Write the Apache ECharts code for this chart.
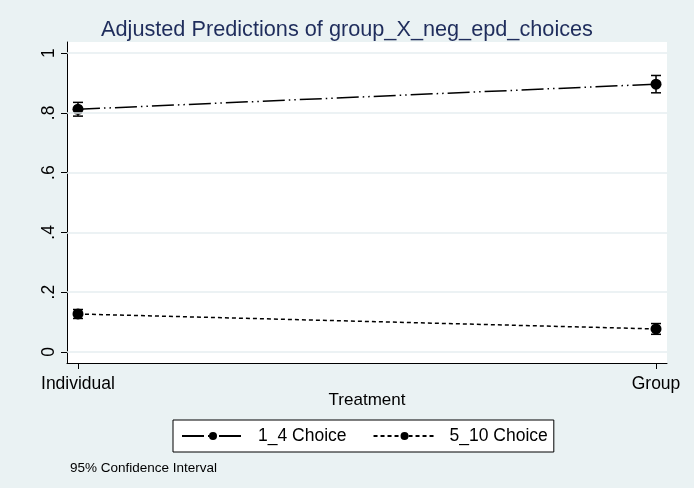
<!DOCTYPE html>
<html>
<head>
<meta charset="utf-8">
<script src="https://cdn.jsdelivr.net/npm/echarts@6/dist/echarts.min.js"></script>
<style>
  html, body { margin: 0; padding: 0; background: #eaf2f3; }
  #chart { width: 694px; height: 488px; }
</style>
</head>
<body>
<div id="chart"></div>
<script>
// values
const categories = ['Individual', 'Group']
const xTitle = 'Treatment'
const yTicks = [0, 0.2, 0.4, 0.6, 0.8, 1]
const yTickLabels = ['0', '.2', '.4', '.6', '.8', '1']

const choice14 = [0.812, 0.896]
const choice14Lo = [0.789, 0.867]
const choice14Hi = [0.835, 0.925]

const choice510 = [0.127, 0.077]
const choice510Lo = [0.112, 0.059]
const choice510Hi = [0.142, 0.095]

const pts = vals => vals.map((v, i) => [i, v])
const ci = (lo, hi) => lo.map((v, i) => [i, v, hi[i]])

// error bar with caps
function ciItem(params, api) {
    let x = api.value(0)
    let lo = api.coord([x, api.value(1)])
    let hi = api.coord([x, api.value(2)])
    let cap = 5
    let style = { stroke: '#000', lineWidth: 1.5 }
    return {
        type: 'group',
        children: [
            { type: 'line', shape: { x1: lo[0], y1: lo[1], x2: hi[0], y2: hi[1] }, style },
            { type: 'line', shape: { x1: lo[0] - cap, y1: lo[1], x2: lo[0] + cap, y2: lo[1] }, style },
            { type: 'line', shape: { x1: hi[0] - cap, y1: hi[1], x2: hi[0] + cap, y2: hi[1] }, style }
        ]
    }
}

let myChart = echarts.init(document.getElementById('chart'))

let font = 'Liberation Sans'

let option = {
    backgroundColor: '#eaf2f3',
    animation: false,
    title: [
        {
            text: 'Adjusted Predictions of group_X_neg_epd_choices',
            left: 'center',
            top: 14,
            textStyle: { color: '#1f2d5c', fontSize: 21.7, fontWeight: 'normal', fontFamily: font }
        },
        {
            text: '95% Confidence Interval',
            left: 65,
            top: 456,
            textStyle: { color: '#000', fontSize: 13.5, fontWeight: 'normal', fontFamily: font }
        }
    ],
    // x axis title, centred under the plot region
    graphic: [
        {
            type: 'text',
            x: 367,
            y: 392,
            style: { text: xTitle, align: 'center', fill: '#000', fontSize: 17, fontFamily: font }
        }
    ],
    legend: {
        left: 173,
        top: 420,
        padding: [7, 6, 7, 8],
        backgroundColor: '#fff',
        borderColor: '#000',
        borderWidth: 1,
        itemWidth: 62,
        itemHeight: 10,
        itemGap: 26,
        textStyle: { color: '#000', fontSize: 17.5, fontFamily: font, padding: [0, 0, 0, 9] },
        data: ['1_4 Choice', '5_10 Choice']
    },
    grid: {
        left: 67,
        right: 27,
        top: 42,
        bottom: 125,
        show: true,
        backgroundColor: '#fff',
        borderWidth: 0
    },
    xAxis: {
        type: 'value',
        min: -0.019,
        max: 1.019,
        axisLine: { onZero: false, lineStyle: { color: '#000', width: 1 } },
        axisTick: { customValues: [0, 1], length: 6, lineStyle: { color: '#000' } },
        axisLabel: {
            customValues: [0, 1],
            color: '#000',
            fontSize: 17.5,
            fontFamily: font,
            margin: 12,
            formatter: v => categories[Math.round(v)]
        },
        splitLine: { show: false }
    },
    yAxis: {
        type: 'value',
        min: -0.037,
        max: 1.037,
        axisLine: { show: true, onZero: false, lineStyle: { color: '#000', width: 1 } },
        axisTick: { show: true, customValues: yTicks, length: 6, lineStyle: { color: '#000' } },
        axisLabel: {
            customValues: yTicks,
            rotate: 90,
            color: '#000',
            fontSize: 17.5,
            fontFamily: font,
            margin: 9,
            formatter: v => yTickLabels[yTicks.indexOf(Math.round(v * 10) / 10)]
        },
        splitLine: { show: false }
    },
    series: [
        {
            name: '1_4 Choice',
            type: 'line',
            data: pts(choice14),
            symbol: 'circle',
            symbolSize: 11,
            itemStyle: { color: '#000' },
            lineStyle: { color: '#000', width: 1.5, type: [22, 4, 1.5, 4, 1.5, 4] },
            z: 3
        },
        {
            name: '5_10 Choice',
            type: 'line',
            data: pts(choice510),
            symbol: 'circle',
            symbolSize: 11,
            itemStyle: { color: '#000' },
            lineStyle: { color: '#000', width: 1.5, type: [4, 3] },
            z: 3
        },
        {
            type: 'custom',
            renderItem: ciItem,
            data: ci(choice14Lo, choice14Hi),
            z: 4,
            silent: true
        },
        {
            type: 'custom',
            renderItem: ciItem,
            data: ci(choice510Lo, choice510Hi),
            z: 4,
            silent: true
        },
        {
            // grid lines at the labelled ticks
            type: 'line',
            data: [],
            silent: true,
            markLine: {
                symbol: 'none',
                label: { show: false },
                lineStyle: { color: '#e6eef0', type: 'solid', width: 1.5 },
                data: yTicks.map(v => ({ yAxis: v }))
            },
            z: 1
        }
    ]
}

myChart.setOption(option)
</script>
</body>
</html>
